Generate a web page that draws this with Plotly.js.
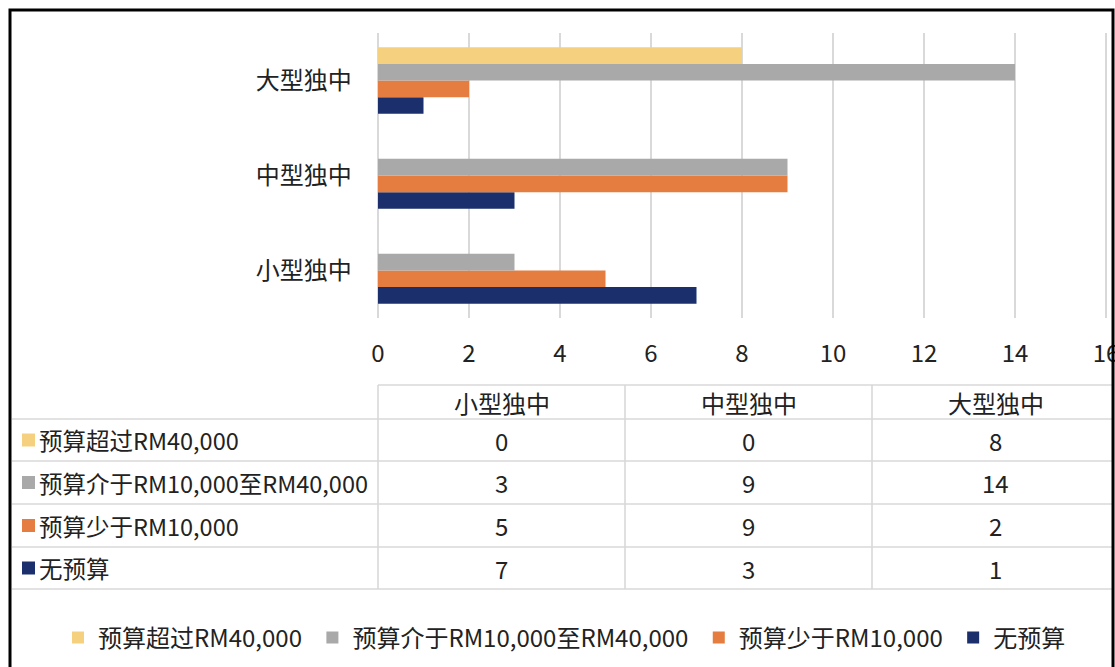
<!DOCTYPE html>
<html><head><meta charset="utf-8">
<script src="https://cdn.plot.ly/plotly-3.0.1.min.js"></script>
<style>html,body{margin:0;padding:0;background:#fff;} #chart{width:1115px;height:667px;}</style>
</head><body><div id="chart"></div>
<script>
// ---- data ----
const categories = ['小型独中', '中型独中', '大型独中'];
const seriesNames = ['预算超过RM40,000', '预算介于RM10,000至RM40,000', '预算少于RM10,000', '无预算'];
const over40k = [0, 0, 8];
const between10kAnd40k = [3, 9, 14];
const under10k = [5, 9, 2];
const noBudget = [7, 3, 1];
const xTickValues = [0, 2, 4, 6, 8, 10, 12, 14, 16];

// ---- styles ----
const seriesColors = ['#F5D17F', '#A9A9A9', '#E47D3F', '#1B2F6C'];
const FONT = '"Noto Sans CJK SC", "Noto Sans", sans-serif';
const TXT = '#222222';
const GRID = '#D9D9D9';
const FS = 24;
const W = 1115, H = 667;
const X = px => px / W;
const Y = py => 1 - py / H;
const LEGEND_PAD = '\u00a0';

const seriesValues = [over40k, between10kAnd40k, under10k, noBudget];

// bars: trace 0 sits at the bottom of each group, so add series in reverse
const traces = [];
for (let i = seriesValues.length - 1; i >= 0; i--) {
  traces.push({
    type: 'bar', orientation: 'h',
    name: seriesNames[i] + (i < seriesValues.length - 1 ? LEGEND_PAD : ''),
    y: categories, x: seriesValues[i],
    marker: {color: seriesColors[i], line: {width: 0}},
    hoverinfo: 'x+y'
  });
}

// ---- data table (shapes + annotations) ----
const tblLeft = 12, tblCol0 = 378, colW = 247, tblRight = 1113;
const headerTop = 385, headerBottom = 419;
const rowBounds = [419, 461, 504, 547, 589];
const shapes = [];
const annotations = [];
const line = {color: GRID, width: 1.6};
// last vertical gridline (at the end of the value axis)
shapes.push({type: 'line', xref: 'x', yref: 'paper', x0: xTickValues[xTickValues.length - 1], x1: xTickValues[xTickValues.length - 1],
  y0: Y(318), y1: Y(33), line, layer: 'above'});
shapes.push({type: 'line', xref: 'paper', yref: 'paper', x0: X(tblCol0), x1: X(tblRight), y0: Y(headerTop), y1: Y(headerTop), line});
rowBounds.forEach(b => shapes.push({type: 'line', xref: 'paper', yref: 'paper', x0: X(tblLeft), x1: X(tblRight), y0: Y(b), y1: Y(b), line}));
for (let c = 0; c < categories.length; c++) {
  const xx = tblCol0 + c * colW;
  shapes.push({type: 'line', xref: 'paper', yref: 'paper', x0: X(xx), x1: X(xx), y0: Y(headerTop), y1: Y(rowBounds[rowBounds.length - 1]), line});
}
categories.forEach((cat, c) => {
  annotations.push({xref: 'paper', yref: 'paper', x: X(tblCol0 + c * colW + colW / 2), y: Y((headerTop + headerBottom) / 2),
    text: cat, showarrow: false, xanchor: 'center', yanchor: 'middle', font: {family: FONT, size: FS, color: TXT}});
});
seriesNames.forEach((nm, r) => {
  const cy = (rowBounds[r] + rowBounds[r + 1]) / 2;
  shapes.push({type: 'rect', xref: 'paper', yref: 'paper', x0: X(22), x1: X(35), y0: Y(cy - 6.5), y1: Y(cy + 6.5),
    fillcolor: seriesColors[r], line: {width: 0}});
  annotations.push({xref: 'paper', yref: 'paper', x: X(37), y: Y(cy), text: nm, showarrow: false,
    xanchor: 'left', yanchor: 'middle', font: {family: FONT, size: 23.5, color: TXT}});
  seriesValues[r].forEach((v, c) => {
    annotations.push({xref: 'paper', yref: 'paper', x: X(tblCol0 + c * colW + colW / 2), y: Y(cy), text: String(v),
      showarrow: false, xanchor: 'center', yanchor: 'middle', font: {family: FONT, size: FS, color: TXT}});
  });
});
// outer frame
shapes.push({type: 'rect', xref: 'paper', yref: 'paper', x0: X(10), x1: X(1113), y0: Y(10), y1: Y(690),
  line: {color: '#000000', width: 3}, fillcolor: 'rgba(0,0,0,0)', layer: 'above'});

const layout = {
  width: W, height: H,
  margin: {l: 0, r: 0, t: 0, b: 0},
  paper_bgcolor: '#ffffff', plot_bgcolor: '#ffffff',
  font: {family: FONT, color: TXT},
  barmode: 'group', bargap: 0.3, bargroupgap: 0,
  xaxis: {
    domain: [X(373.45), X(1110.55)], range: [-0.1, 16.1], tickvals: xTickValues,
    showgrid: true, gridcolor: GRID, gridwidth: 1.6, zeroline: false, showline: false,
    ticks: 'outside', ticklen: 14, tickcolor: 'rgba(0,0,0,0)', ticklabeloverflow: 'allow',
    tickfont: {family: FONT, size: FS, color: TXT}, fixedrange: true
  },
  yaxis: {
    domain: [Y(318), Y(33)], type: 'category', categoryorder: 'array', categoryarray: categories,
    showgrid: false, zeroline: false, showline: false,
    ticks: 'outside', ticklen: 16, tickcolor: 'rgba(0,0,0,0)',
    tickfont: {family: FONT, size: FS, color: TXT}, fixedrange: true
  },
  showlegend: true,
  legend: {
    orientation: 'h', traceorder: 'reversed', x: X(58), xanchor: 'left', y: Y(638), yanchor: 'middle',
    font: {family: FONT, size: FS, color: TXT}, bgcolor: 'rgba(0,0,0,0)'
  },
  shapes, annotations
};

Plotly.newPlot('chart', traces, layout, {displayModeBar: false, staticPlot: true});
</script>
</body></html>
